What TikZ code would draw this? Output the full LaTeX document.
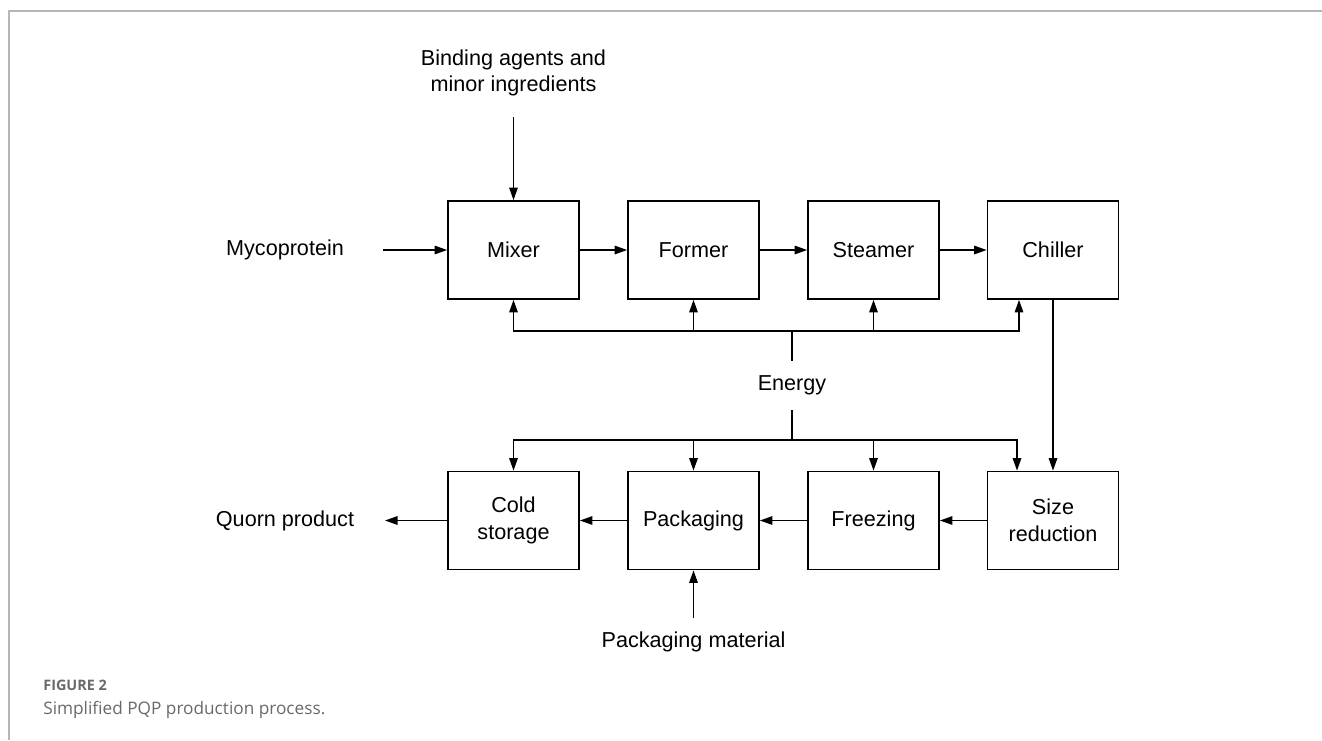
\documentclass[tikz,border=0pt]{standalone}
\usepackage{fontspec}
\setmainfont{Liberation Sans}
\newfontfamily\capfont{Open Sans}
\usepackage{xcolor}
\usetikzlibrary{arrows.meta,positioning,calc}
\definecolor{framegray}{RGB}{182,182,182}
\definecolor{captiongray}{RGB}{105,105,105}

\begin{document}
\begin{tikzpicture}[
    block/.style={rectangle, draw, line width=1pt, minimum height=1.96cm, minimum width=2.62cm, inner sep=1pt, align=center, font=\fontsize{12.3}{15.5}\selectfont},
    txt/.style={align=center, inner sep=0pt, font=\fontsize{12.3}{14.8}\selectfont},
    captxt/.style={anchor=base west, inner sep=0pt, text=captiongray},
    arrow/.style={-{Triangle[length=2.5mm,width=1.7mm]}, line width=0.85pt},
    link/.style={line width=0.85pt}
]
\useasboundingbox (0,0) rectangle (26.44,-14.8);
\draw[framegray, line width=1.1pt] (0.18,-14.8) -- (0.18,-0.22) -- (26.44,-0.22);

% process steps
\node[block] (mixer)   at (10.27,-5.0)   {Mixer};
\node[block] (former)  at (13.87,-5.0)   {Former};
\node[block] (steamer) at (17.47,-5.0)   {Steamer};
\node[block] (chiller) at (21.06,-5.0)   {Chiller};
\node[block] (cold)    at (10.27,-10.41) {Cold\\storage};
\node[block] (pack)    at (13.87,-10.41) {Packaging};
\node[block] (freeze)  at (17.47,-10.41) {Freezing};
\node[block] (sizered) at (21.06,-10.41) {Size\\reduction};

% inputs and outputs
\node[txt] (binding) at (10.27,-1.45)  {Binding agents and\\minor ingredients};
\node[txt] (myco)    at (5.7,-4.99)    {Mycoprotein};
\node[txt, minimum height=0.98cm] (energy) at (15.84,-7.71) {Energy};
\node[txt] (quorn)   at (5.7,-10.41)   {Quorn product};
\node[txt] (packmat) at (13.87,-12.83) {Packaging material};

\coordinate (bindin)   at (10.27,-2.34);
\coordinate (mycoin)   at (7.66,-5.0);
\coordinate (quornout) at (7.7,-10.41);
\coordinate (packin)   at (13.87,-12.36);
\coordinate (ubus)     at (15.84,-6.62);
\coordinate (lbus)     at (15.84,-8.8);

\draw[arrow] (bindin) -- (mixer);
\draw[arrow] (mycoin) -- (mixer);
\draw[arrow] (mixer) -- (former);
\draw[arrow] (former) -- (steamer);
\draw[arrow] (steamer) -- (chiller);
\draw[arrow] (chiller) -- (sizered);
\draw[arrow] (sizered) -- (freeze);
\draw[arrow] (freeze) -- (pack);
\draw[arrow] (pack) -- (cold);
\draw[arrow] (cold) -- (quornout);
\draw[arrow] (packin) -- (pack);

% energy supply
\draw[link] (energy.north) -- (ubus);
\draw[arrow] (ubus) -| (mixer.south);
\draw[arrow] (ubus) -| ([xshift=-0.68cm]chiller.south);
\draw[arrow] (former.south |- ubus) -- (former.south);
\draw[arrow] (steamer.south |- ubus) -- (steamer.south);
\draw[link] (energy.south) -- (lbus);
\draw[arrow] (lbus) -| (cold.north);
\draw[arrow] (lbus) -| ([xshift=-0.72cm]sizered.north);
\draw[arrow] (pack.north |- lbus) -- (pack.north);
\draw[arrow] (freeze.north |- lbus) -- (freeze.north);

% caption
\node[captxt, font=\capfont\bfseries\fontsize{8.2}{10}\selectfont] (fignum) at (0.86,-13.8) {FIGURE 2};
\node[captxt, font=\capfont\fontsize{9.8}{12}\selectfont] (figcap) at (0.86,-14.28) {Simplified PQP production process.};
\end{tikzpicture}
\end{document}
